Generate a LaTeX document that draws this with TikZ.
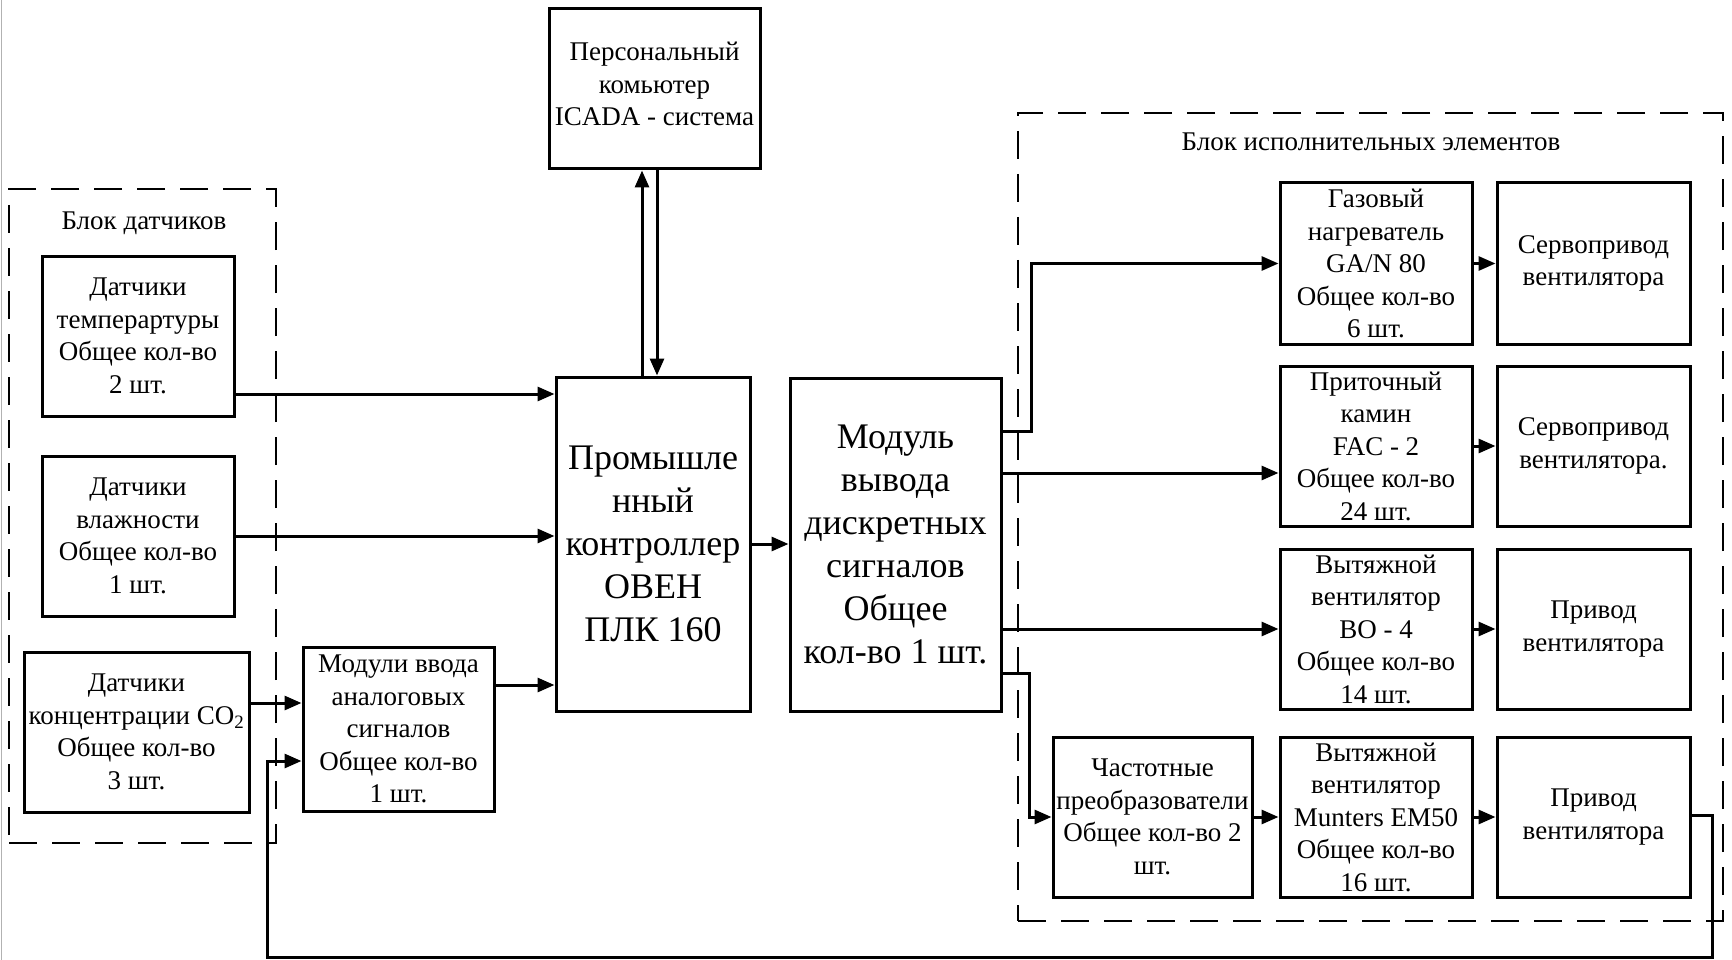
\documentclass[tikz,border=0pt]{standalone}
\usepackage{fontspec}
\setmainfont{Liberation Serif}
\usetikzlibrary{arrows.meta}
\begin{document}
\begin{tikzpicture}[x=1pt,y=-1pt,
  blk/.style={draw, line width=3pt, align=center, inner sep=0pt, font=\fontsize{27}{32.5}\selectfont},
  bigblk/.style={blk, font=\fontsize{36}{43}\selectfont},
  grp/.style={draw, line width=2.5pt, dash pattern=on 28pt off 15pt, inner sep=0pt},
  lbl/.style={font=\fontsize{27}{32.5}\selectfont, inner sep=0pt, align=center},
  conn/.style={line width=3pt, -{Triangle[length=17pt,width=14pt]}}]
\fill[white] (0,0) rectangle (1732,960);
\useasboundingbox (0,0) rectangle (1732,960);
\draw[gray!60, line width=1.2pt] (1.5,0) -- (1.5,960);

% groups
\node[grp, minimum width=267pt, minimum height=654pt] (gsens) at (142.5,516) {};
\node[grp, minimum width=705pt, minimum height=808pt] (gact) at (1370.5,517) {};
\node[lbl] (lsens) at (144,223) {Блок датчиков};
\node[lbl] (lact) at (1371,142) {Блок исполнительных элементов};

% left side
\node[blk, minimum width=192pt, minimum height=160pt] (temp) at (138,336) {Датчики\\темперартуры\\Общее кол-во\\2 шт.};
\node[blk, minimum width=192pt, minimum height=160pt] (hum) at (138,536) {Датчики\\влажности\\Общее кол-во\\1 шт.};
\node[blk, minimum width=225pt, minimum height=160pt] (co2) at (136.5,732) {Датчики\\концентрации CO\textsubscript{2}\\Общее кол-во\\3 шт.};
\node[blk, minimum width=191pt, minimum height=164pt] (ana) at (398.5,729) {Модули ввода\\аналоговых\\сигналов\\Общее кол-во\\1 шт.};

% centre
\node[bigblk, minimum width=194pt, minimum height=334pt] (plc) at (653,544) {Промышле\\нный\\контроллер\\ОВЕН\\ПЛК 160};
\node[blk, minimum width=211pt, minimum height=160pt] (pc) at (654.5,89) {};
\node[lbl] (pct) at (654.5,84) {Персональный\\комьютер\\ICADA - система};
\node[bigblk, minimum width=211pt, minimum height=333pt] (dout) at (895.5,544.5) {Модуль\\вывода\\дискретных\\сигналов\\Общее\\кол-во 1 шт.};

% right side
\node[blk, minimum width=192pt, minimum height=161pt] (c1r1) at (1376,263.5) {Газовый\\нагреватель\\GA/N 80\\Общее кол-во\\6 шт.};
\node[blk, minimum width=192pt, minimum height=160pt] (c1r2) at (1376,446) {Приточный\\камин\\FAC - 2\\Общее кол-во\\24 шт.};
\node[blk, minimum width=192pt, minimum height=160pt] (c1r3) at (1376,629) {Вытяжной\\вентилятор\\ВО - 4\\Общее кол-во\\14 шт.};
\node[blk, minimum width=192pt, minimum height=160pt] (c1r4) at (1376,817) {Вытяжной\\вентилятор\\Munters EM50\\Общее кол-во\\16 шт.};
\node[blk, minimum width=193pt, minimum height=161pt] (c2r1) at (1593.5,263.5) {Сервопривод\\вентилятора};
\node[blk, minimum width=193pt, minimum height=160pt] (c2r2) at (1593.5,446) {Сервопривод\\вентилятора.};
\node[blk, minimum width=193pt, minimum height=160pt] (c2r3) at (1593.5,629) {Привод\\вентилятора};
\node[blk, minimum width=193pt, minimum height=160pt] (c2r4) at (1593.5,817) {Привод\\вентилятора};
\node[blk, minimum width=199pt, minimum height=160pt] (freq) at (1152.5,817) {Частотные\\преобразователи\\Общее кол-во 2\\шт.};

% PLC <-> PC
\coordinate (u1) at ([xshift=-11pt]plc.north);
\coordinate (d1) at ([xshift=4pt]plc.north);
\draw[conn] (u1) -- (u1 |- pc.south);
\draw[conn] (d1 |- pc.south) -- (d1);

% inputs
\draw[conn] ([yshift=-58pt]temp.east) -- ([yshift=150pt]plc.west);
\draw[conn] (hum.east) -- (hum.east -| plc.west);
\draw[conn] ([yshift=29pt]co2.east) -- ([yshift=26pt]ana.west);
\draw[conn] ([yshift=44pt]ana.east) -- ([yshift=-141pt]plc.west);
\draw[conn] (plc.east) -- (plc.east -| dout.west);

% outputs
\draw[conn] ([yshift=113.5pt]dout.east) -- ++(29,0) |- (c1r1.west);
\draw[conn] ([yshift=71.5pt]dout.east) -- ([yshift=-27pt]c1r2.west);
\draw[conn] ([yshift=-84.5pt]dout.east) -- (c1r3.west);
\draw[conn] ([yshift=-128.5pt]dout.east) -- ++(27,0) |- (freq.west);

\draw[conn] (c1r1.east) -- (c2r1.west);
\draw[conn] (c1r2.east) -- (c2r2.west);
\draw[conn] (c1r3.east) -- (c2r3.west);
\draw[conn] (c1r4.east) -- (c2r4.west);
\draw[conn] (freq.east) -- (c1r4.west);

% feedback
\coordinate (fb1) at (1712,957);
\coordinate (fb2) at (267,957);
\draw[conn] ([yshift=2pt]c2r4.east) -| (fb1) -- (fb2) |- ([yshift=-32pt]ana.west);
\end{tikzpicture}
\end{document}
